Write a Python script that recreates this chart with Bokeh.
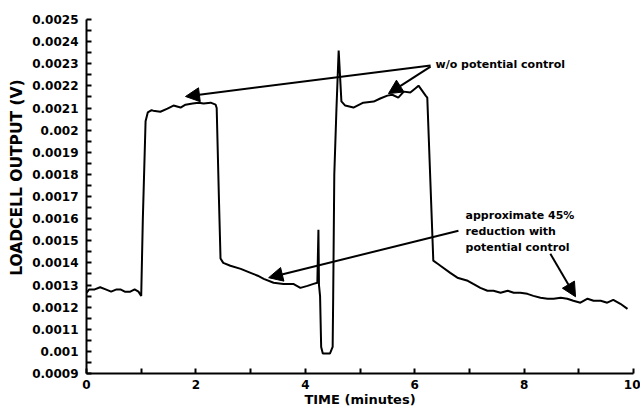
from bokeh.plotting import figure
from bokeh.models import Range1d, FixedTicker, Label, Arrow, NormalHead
from bokeh.embed import file_html
from bokeh.resources import INLINE

# ---- data ----
time_min = [
    0.00, 0.05, 0.15, 0.25, 0.35, 0.45, 0.55, 0.62, 0.70, 0.80, 0.88, 0.95, 1.00,
    1.03, 1.08, 1.12, 1.19, 1.22, 1.35, 1.48, 1.59, 1.72, 1.81, 1.94, 2.05, 2.14,
    2.27, 2.36, 2.38, 2.42, 2.45, 2.50, 2.63, 2.82, 3.00, 3.13, 3.24, 3.42, 3.60,
    3.78, 3.91, 4.04, 4.15, 4.22, 4.24, 4.25, 4.27, 4.29, 4.32, 4.45, 4.50, 4.51,
    4.53, 4.57, 4.61, 4.66, 4.73, 4.88, 5.06, 5.25, 5.37, 5.50, 5.59, 5.70, 5.80,
    5.92, 6.01, 6.07, 6.20, 6.23, 6.34, 6.42, 6.47, 6.65, 6.78, 6.97, 7.07, 7.20,
    7.33, 7.44, 7.57, 7.70, 7.81, 7.93, 8.06, 8.17, 8.30, 8.43, 8.54, 8.67, 8.79,
    8.90, 9.03, 9.16, 9.27, 9.40, 9.52, 9.63, 9.76, 9.89,
]
loadcell_v = [
    0.001265, 0.00128, 0.00128, 0.00129, 0.00128, 0.00127, 0.00128, 0.00128, 0.00127, 0.00127, 0.00128, 0.00127, 0.00125,
    0.00160, 0.00204, 0.00208, 0.00209, 0.002088, 0.002083, 0.002097, 0.002111, 0.002102, 0.002115, 0.00212, 0.002124, 0.00212,
    0.002124, 0.002115, 0.00210, 0.00170, 0.00142, 0.00140, 0.001387, 0.001373, 0.001355, 0.001342, 0.001328, 0.00131, 0.001305,
    0.001305, 0.001287, 0.001296, 0.001305, 0.00131, 0.00155, 0.00130, 0.00125, 0.00102, 0.00099, 0.00099, 0.00102, 0.00125,
    0.00180, 0.00210, 0.00236, 0.00213, 0.002111, 0.002102, 0.002124, 0.002129, 0.002143, 0.002156, 0.00216, 0.002147, 0.002174,
    0.00217, 0.002188, 0.002201, 0.002156, 0.002147, 0.00141, 0.001396, 0.001387, 0.001355, 0.001333, 0.001319, 0.001305, 0.001287,
    0.001274, 0.001274, 0.001265, 0.001274, 0.001265, 0.001265, 0.00126, 0.001251, 0.001242, 0.001238, 0.001238, 0.001242, 0.001238,
    0.001229, 0.00122, 0.001238, 0.001229, 0.001229, 0.00122, 0.001233, 0.001215, 0.001192,
]

x_ticks = [0, 2, 4, 6, 8, 10]
y_tick_labels = ["0.0009", "0.001", "0.0011", "0.0012", "0.0013", "0.0014", "0.0015",
                 "0.0016", "0.0017", "0.0018", "0.0019", "0.002", "0.0021", "0.0022",
                 "0.0023", "0.0024", "0.0025"]
y_ticks = [float(s) for s in y_tick_labels]
y_minor = [round(v + 0.00005, 6) for v in y_ticks[:-1]]
x_minor = [1, 3, 5, 7, 9]

FONT = "DejaVu Sans"

p = figure(width=640, height=417, output_backend="svg", toolbar_location=None,
           x_range=Range1d(0, 10), y_range=Range1d(0.0009, 0.0025),
           min_border_left=86, min_border_right=7, min_border_top=19, min_border_bottom=44)
p.outline_line_color = None
p.xgrid.visible = False
p.ygrid.visible = False
p.background_fill_color = "white"
p.border_fill_color = "white"

p.line(time_min, loadcell_v, line_color="black", line_width=2)

# axes
p.xaxis.ticker = FixedTicker(ticks=x_ticks, minor_ticks=x_minor)
p.yaxis.ticker = FixedTicker(ticks=y_ticks, minor_ticks=y_minor)
p.yaxis.major_label_overrides = {v: s for v, s in zip(y_ticks, y_tick_labels)}
for ax in (p.xaxis[0], p.yaxis[0]):
    ax.axis_line_width = 2
    ax.axis_line_color = "black"
    ax.major_tick_in = 5
    ax.major_tick_out = 0
    ax.minor_tick_in = 5
    ax.minor_tick_out = 0
    ax.major_tick_line_width = 2
    ax.minor_tick_line_width = 2
    ax.major_tick_line_color = "black"
    ax.minor_tick_line_color = "black"
    ax.major_label_text_font = FONT
    ax.major_label_text_font_style = "bold"
    ax.major_label_text_font_size = "12px"
    ax.major_label_text_color = "black"
    ax.axis_label_text_font = FONT
    ax.axis_label_text_font_style = "bold"
    ax.axis_label_text_color = "black"
p.xaxis.major_label_standoff = 6
p.yaxis.major_label_standoff = 8
p.xaxis.axis_label = "TIME (minutes)"
p.xaxis.axis_label_text_font_size = "13px"
p.xaxis.axis_label_standoff = 0
# leading no-break spaces shift the centred title upwards, as in the reference
p.yaxis.axis_label = "\u00a0" * 7 + "LOADCELL OUTPUT (V)"
p.yaxis.axis_label_text_font_size = "15.5px"
p.yaxis.axis_label_standoff = 3

# annotations
def arrow(x0, y0, x1, y1):
    p.add_layout(Arrow(end=NormalHead(size=14, fill_color="black", line_color="black", line_width=1),
                       x_start=x0, y_start=y0, x_end=x1, y_end=y1,
                       line_color="black", line_width=2))

arrow(6.29, 0.002292, 1.81, 0.002152)
arrow(6.29, 0.002287, 5.52, 0.002165)
arrow(6.80, 0.001545, 3.33, 0.001333)
arrow(8.48, 0.001441, 8.94, 0.001247)

lab_kw = dict(text_font=FONT, text_font_style="bold", text_font_size="11px",
              text_color="black", text_baseline="middle", text_align="left")
p.add_layout(Label(x=6.38, y=0.002296, text="w/o potential control", **lab_kw))
p.add_layout(Label(x=6.93, y=0.001613, text="approximate 45%", **lab_kw))
p.add_layout(Label(x=6.93, y=0.001541, text="reduction with", **lab_kw))
p.add_layout(Label(x=6.93, y=0.001468, text="potential control", **lab_kw))

open("out.html", "w").write(file_html(p, INLINE))
